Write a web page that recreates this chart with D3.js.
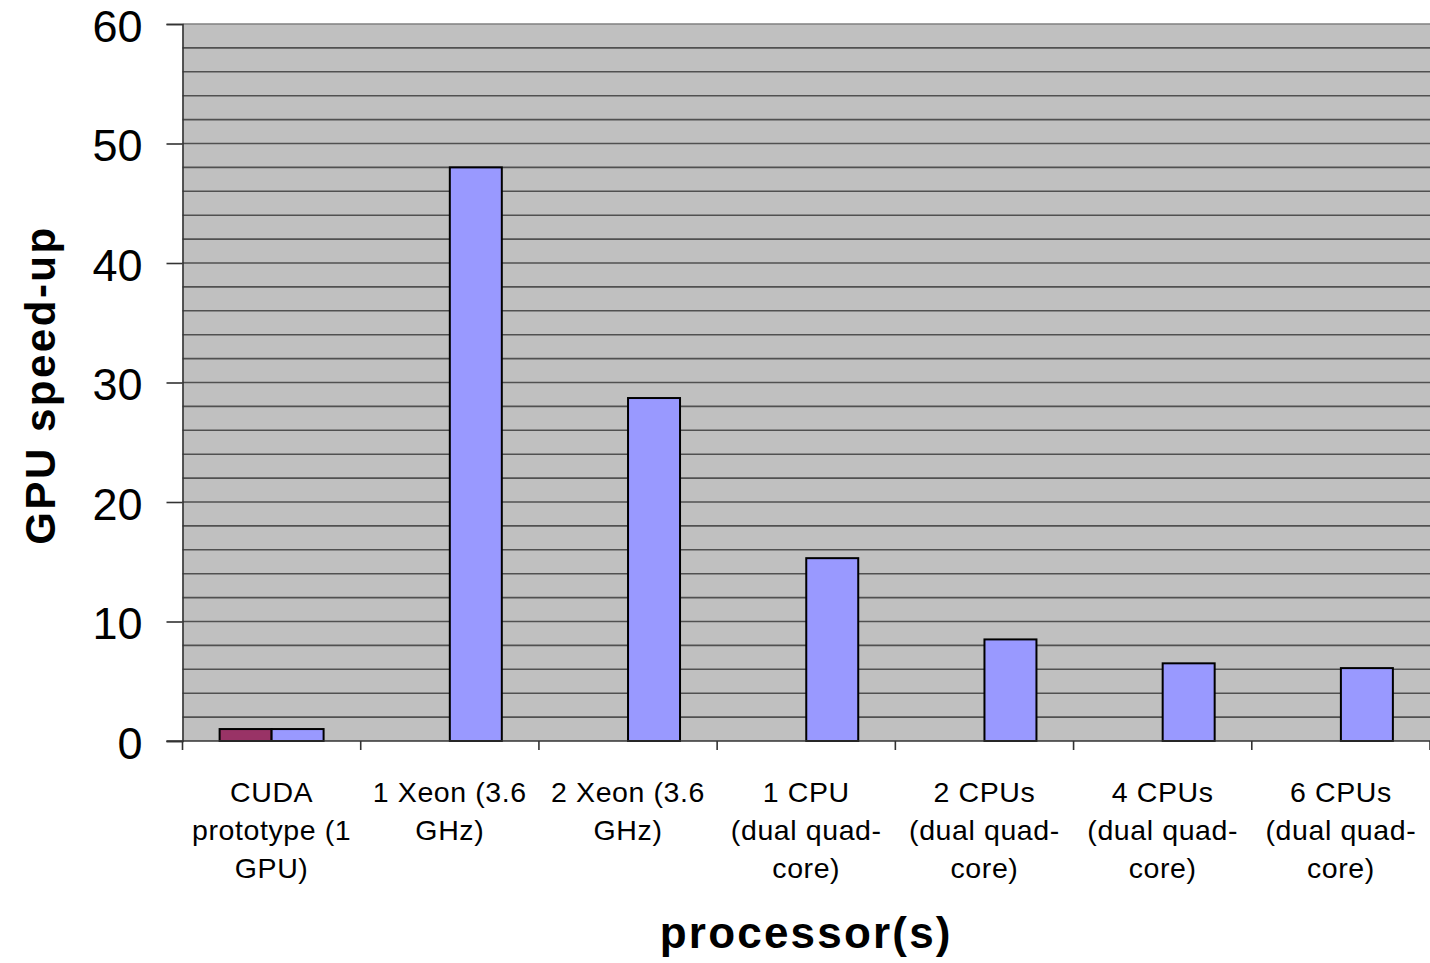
<!DOCTYPE html>
<html>
<head>
<meta charset="utf-8">
<script src="https://cdn.jsdelivr.net/npm/d3@7/dist/d3.min.js"></script>
<style>
  html, body { margin: 0; padding: 0; background: #fff; }
  svg { display: block; font-family: "Liberation Sans", Arial, sans-serif; }
</style>
</head>
<body>
<svg id="chart" width="1430" height="963"></svg>
<script>
// Categories (line breaks follow the wrapped axis labels)
const categories = [
  "CUDA\nprototype (1\nGPU)",
  "1 Xeon (3.6\nGHz)",
  "2 Xeon (3.6\nGHz)",
  "1 CPU\n(dual quad-\ncore)",
  "2 CPUs\n(dual quad-\ncore)",
  "4 CPUs\n(dual quad-\ncore)",
  "6 CPUs\n(dual quad-\ncore)"
];
const seriesNames = ["GPU", "CPU"];
const gpuValues = [1, null, null, null, null, null, null];
const cpuValues = [1, 48, 28.7, 15.3, 8.5, 6.5, 6.1];
const yTicks = [0, 10, 20, 30, 40, 50, 60];
const yGrid = d3.range(2, 60, 2);
const seriesColors = ["#993366", "#9999FF"];

const svg = d3.select("#chart");
const plotLeft = 182.5, plotRight = 1430, plotTop = 24, plotBottom = 741;

const x = d3.scaleBand().domain(categories).range([plotLeft, plotRight]).padding(0);
const xInner = d3.scaleBand().domain(seriesNames).range([0, x.bandwidth()])
  .paddingInner(0).paddingOuter(0.714);
const y = d3.scaleLinear().domain([0, 60]).range([plotBottom, plotTop]);

// Plot area
svg.append("rect")
  .attr("x", plotLeft).attr("y", plotTop)
  .attr("width", plotRight - plotLeft).attr("height", plotBottom - plotTop)
  .attr("fill", "#C0C0C0");

// Horizontal gridlines
svg.append("g").selectAll("line").data(yGrid).join("line")
  .attr("x1", plotLeft).attr("x2", plotRight)
  .attr("y1", d => y(d)).attr("y2", d => y(d))
  .attr("stroke", "#505050").attr("stroke-width", 1.6);

// Top border of plot area
svg.append("line")
  .attr("x1", plotLeft).attr("x2", plotRight)
  .attr("y1", y(60)).attr("y2", y(60))
  .attr("stroke", "#808080").attr("stroke-width", 1.6);

// Bars
const rows = categories.map((c, i) => ({ cat: c, values: [gpuValues[i], cpuValues[i]] }));
const groups = svg.append("g").selectAll("g").data(rows).join("g")
  .attr("transform", d => `translate(${x(d.cat)},0)`);
groups.selectAll("rect")
  .data(d => d.values.map((v, j) => ({ key: seriesNames[j], v, j })).filter(e => e.v != null))
  .join("rect")
  .attr("x", e => xInner(e.key))
  .attr("width", xInner.bandwidth())
  .attr("y", e => y(e.v))
  .attr("height", e => y(0) - y(e.v))
  .attr("fill", e => seriesColors[e.j])
  .attr("stroke", "#000").attr("stroke-width", 2);

// Y axis
const yAxis = d3.axisLeft(y).tickValues(yTicks).tickSize(16).tickPadding(24);
const gy = svg.append("g").attr("transform", `translate(${plotLeft},0)`).call(yAxis);
gy.select(".domain").attr("stroke", "#333").attr("stroke-width", 1.6);
gy.selectAll(".tick line").attr("stroke", "#333").attr("stroke-width", 1.6);
gy.selectAll(".tick text")
  .attr("font-size", 45).attr("fill", "#000")
  .attr("font-family", "Liberation Sans, Arial, sans-serif")
  .attr("dy", "0.38em");

// X axis with boundary ticks between categories
svg.append("line")
  .attr("x1", plotLeft - 16).attr("x2", plotRight)
  .attr("y1", plotBottom).attr("y2", plotBottom)
  .attr("stroke", "#333").attr("stroke-width", 1.6);
const boundaries = categories.map(c => x(c)).concat([plotRight]);
svg.append("g").selectAll("line").data(boundaries).join("line")
  .attr("x1", d => d).attr("x2", d => d)
  .attr("y1", plotBottom).attr("y2", plotBottom + 9)
  .attr("stroke", "#333").attr("stroke-width", 1.6);

// Category labels
const lab = svg.append("g").selectAll("text").data(categories).join("text")
  .attr("text-anchor", "middle")
  .attr("font-size", 28.5)
  .attr("letter-spacing", 0.6)
  .attr("fill", "#000")
  .attr("transform", d => `translate(${x(d) + x.bandwidth() / 2},802)`);
lab.selectAll("tspan").data(d => d.split("\n")).join("tspan")
  .attr("x", 0).attr("y", (d, i) => i * 38)
  .text(d => d);

// Axis titles
svg.append("text")
  .attr("x", (plotLeft + plotRight) / 2).attr("y", 948)
  .attr("text-anchor", "middle")
  .attr("font-size", 44).attr("font-weight", "bold")
  .attr("letter-spacing", 2.2)
  .text("processor(s)");

svg.append("text")
  .attr("transform", `translate(55,385) rotate(-90)`)
  .attr("text-anchor", "middle")
  .attr("font-size", 42).attr("font-weight", "bold")
  .attr("letter-spacing", 2.5)
  .text("GPU speed-up");
</script>
</body>
</html>
